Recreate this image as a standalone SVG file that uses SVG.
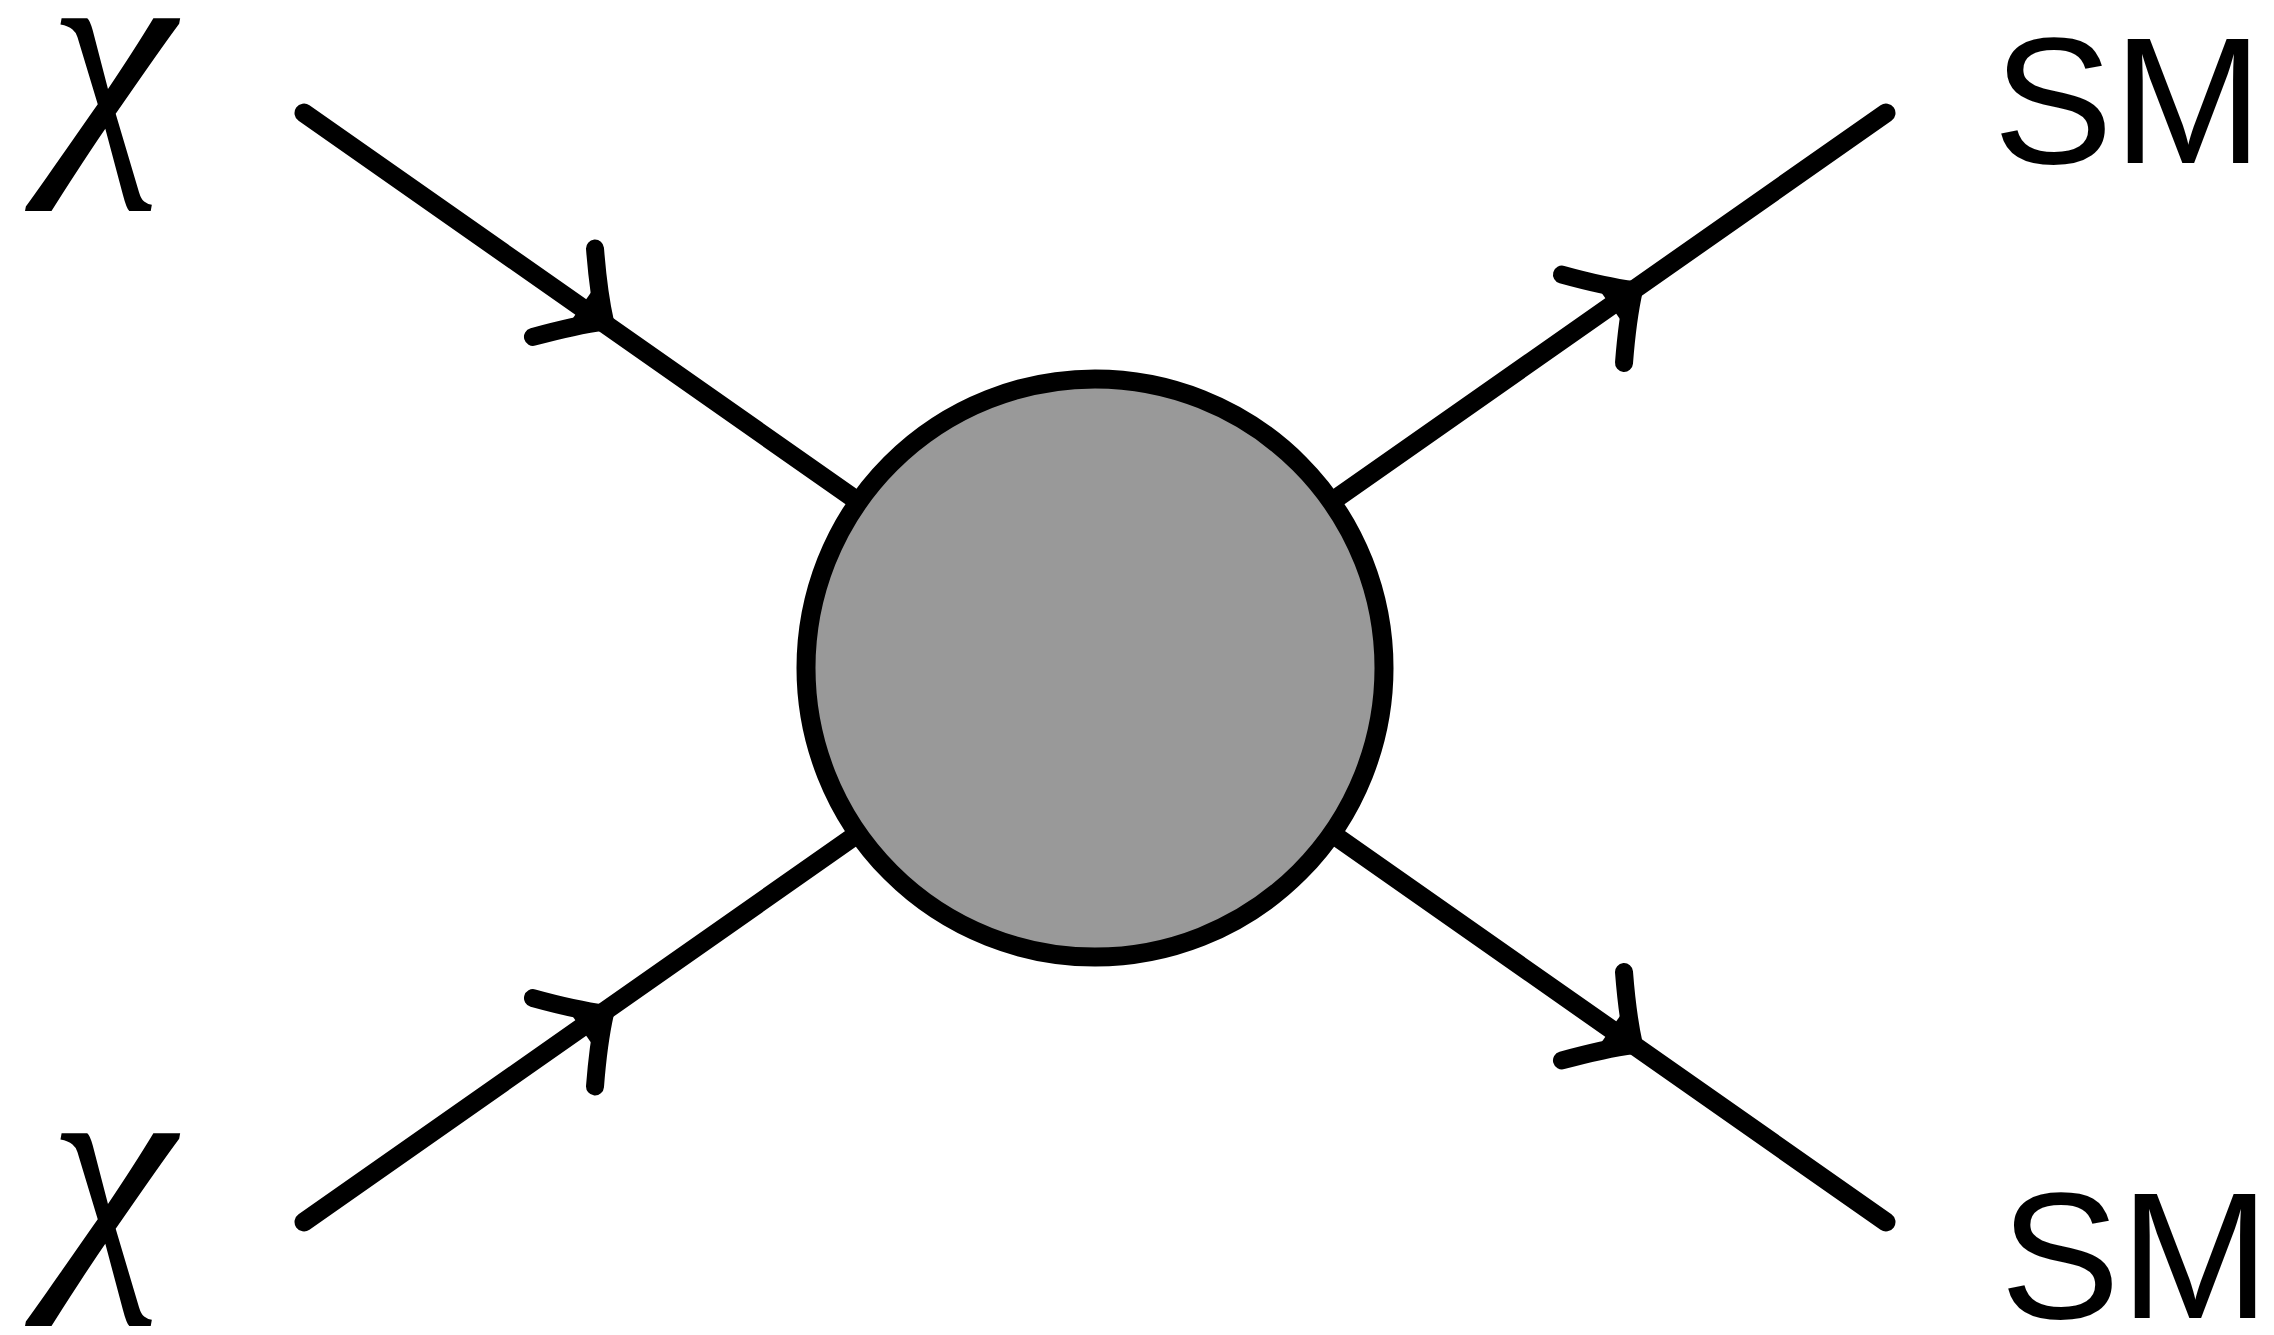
<svg xmlns="http://www.w3.org/2000/svg" xmlns:xlink="http://www.w3.org/1999/xlink" width="2274" height="1335" viewBox="0 0 2274 1335">
  <style>
    .leg { stroke: #000; stroke-width: 19; stroke-linecap: round; fill: none; }
    .barb { stroke: #000; stroke-width: 18; stroke-linecap: round; stroke-linejoin: round; fill: none; }
    .core { fill: #000; stroke: none; }
    .blob { fill: #999999; stroke: #000; stroke-width: 19; }
    .chi { font-family: "Liberation Serif", "Times New Roman", serif; font-style: italic; font-size: 287px; fill: #000; }
    .sm { font-family: "Liberation Sans", Arial, sans-serif; font-size: 180px; fill: #000; }
  </style>
  <defs>
    <g id="arrowhead">
      <path class="barb" d="M -44,-54 Q -16,-20 6,0 Q -16,20 -44,54"/>
      <path class="core" d="M 14,0 L -22,-22 L -22,22 Z"/>
    </g>
  </defs>
  <rect width="2274" height="1335" fill="#fff"/>
  <g id="connectors">
    <line class="leg" x1="304" y1="113" x2="1095" y2="667.5"/>
    <line class="leg" x1="304" y1="1222" x2="1095" y2="667.5"/>
    <line class="leg" x1="1886" y1="113" x2="1095" y2="667.5"/>
    <line class="leg" x1="1886" y1="1222" x2="1095" y2="667.5"/>
    <use xlink:href="#arrowhead" transform="translate(600,318) rotate(35.06)"/>
    <use xlink:href="#arrowhead" transform="translate(600,1017) rotate(-35.06)"/>
    <use xlink:href="#arrowhead" transform="translate(1629,293.5) rotate(-35.06)"/>
    <use xlink:href="#arrowhead" transform="translate(1629,1041.5) rotate(35.06)"/>
  </g>
  <g id="blob-node">
    <circle class="blob" cx="1095" cy="668" r="289"/>
  </g>
  <g id="chi-top"><text class="chi" x="48" y="150">χ</text></g>
  <g id="chi-bottom"><text class="chi" x="48" y="1265">χ</text></g>
  <g id="sm-top"><text class="sm" x="1993" y="163">SM</text></g>
  <g id="sm-bottom"><text class="sm" x="2000" y="1318">SM</text></g>
</svg>
